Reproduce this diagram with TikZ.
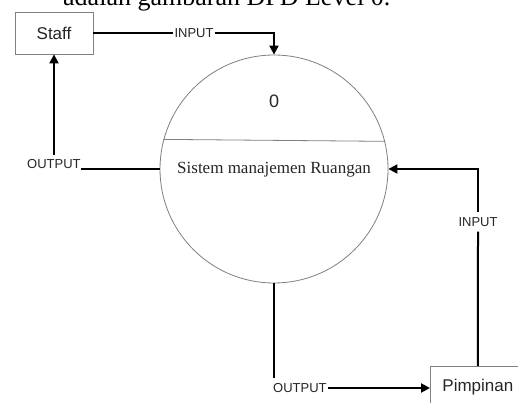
\documentclass[tikz,border=0pt]{standalone}
\usepackage{fontspec}
\setmainfont{Liberation Serif}
\setsansfont{Liberation Sans}
\usetikzlibrary{arrows.meta}
\begin{document}
\begin{tikzpicture}[x=1pt,y=-1pt,
  entity/.style={draw=black!50,line width=0.8pt,rectangle,inner sep=0pt,
    font=\sffamily\fontsize{17}{20}\selectfont,text=black!85},
  process/.style={draw=black!50,line width=0.8pt,circle,inner sep=0pt,minimum size=228pt},
  flow/.style={line width=2pt,draw=black},
  arr/.style={-{Triangle[length=9pt,width=9pt]}},
  flowlabel/.style={font=\sffamily\fontsize{13}{15}\selectfont,text=black!85,inner xsep=1pt,inner ysep=5pt}]
  \clip (0,0) rectangle (518,403);
  \fill[white] (0,0) rectangle (518,403);

  % running text of the page, cut at the top edge
  \node[anchor=base west,inner sep=0pt,font=\fontsize{26}{30}\selectfont] (caption) at (63,6) {adalah gambaran DFD Level 0.};

  % external entities and the process
  \node[entity,minimum width=78pt,minimum height=42pt] (staff) at (54,33) {Staff};
  \node[entity,anchor=north west,minimum width=95pt,minimum height=42pt] (pimpinan) at (430,366) {Pimpinan};
  \node[process] (proc) at (274,169) {};
  \draw[draw=black!50,line width=0.8pt] (proc.165.3) -- (proc.14.7);
  \node[font=\sffamily\fontsize{18}{21}\selectfont,text=black!85] (pnum) at (274,101) {0};
  \node[font=\fontsize{17}{20}\selectfont,text=black!85] (pname) at (274,170) {Sistem manajemen Ruangan};

  % data flows
  \node[flowlabel] (in1) at (194,33) {INPUT};
  \draw[flow] (staff.east) -- (in1.west);
  \draw[flow,arr] (in1.east) -| (proc.north);

  \node[flowlabel,anchor=base west,inner xsep=0pt] (out1) at (27,169) {OUTPUT};
  \draw[flow] (proc.west) -- (out1.base east);
  \draw[flow,arr] (staff.south |- out1.north) -- (staff.south);

  \node[flowlabel] (in2) at (478,222) {INPUT};
  \draw[flow] (pimpinan.north) -- (in2.south);
  \draw[flow,arr] (in2.north) |- (proc.east);

  \node[flowlabel,anchor=west,inner xsep=0pt] (out2) at (273,388) {OUTPUT};
  \draw[flow] (proc.south) -- (proc.south |- out2.north);
  \draw[flow,arr] ([xshift=1pt]out2.east) -- (out2.east -| pimpinan.west);
\end{tikzpicture}
\end{document}
